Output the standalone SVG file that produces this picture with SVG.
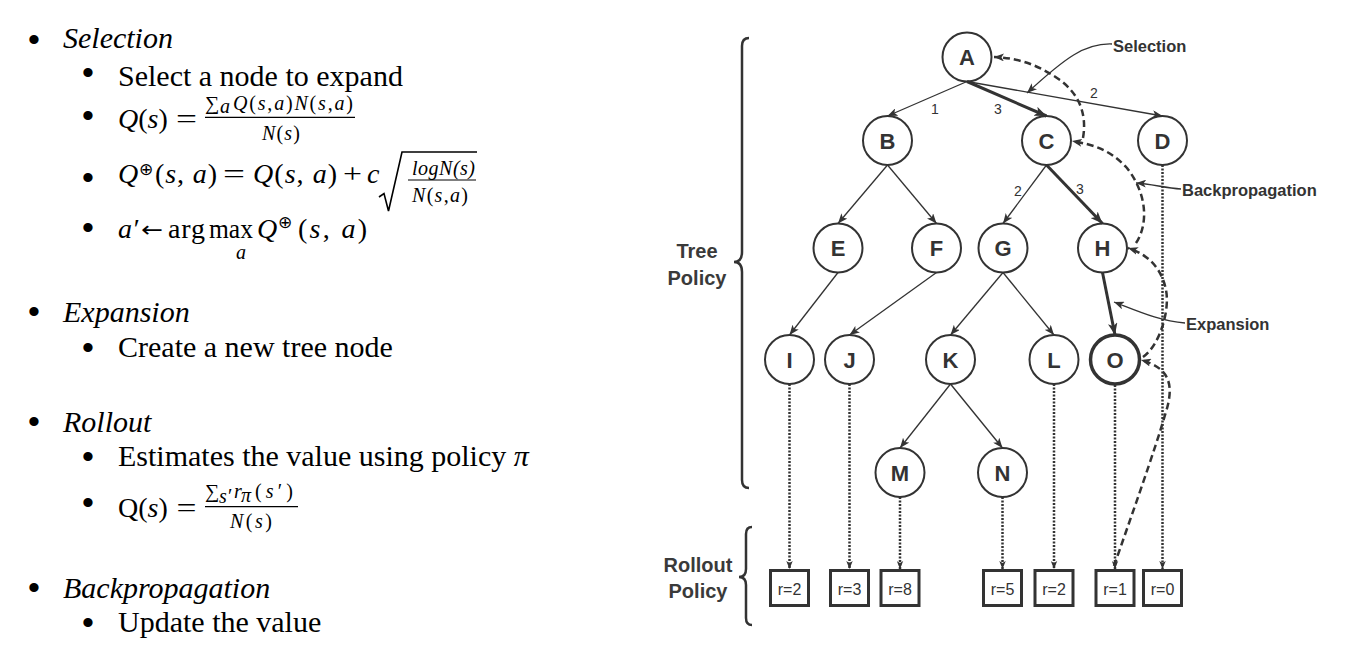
<svg xmlns="http://www.w3.org/2000/svg" width="1355" height="650" viewBox="0 0 1355 650">
<defs>
<style>
.tx{font-family:"Liberation Serif","Times New Roman",serif;font-size:30px;fill:#000}
.it{font-style:italic}
.mt{font-family:"Liberation Serif","Times New Roman",serif;font-size:28px;fill:#000}
.ms{font-family:"Liberation Serif","Times New Roman",serif;font-size:20px;fill:#000}
.bul{font-family:"Liberation Sans",Arial,sans-serif;font-size:34px;fill:#000;text-anchor:middle}
.op{font-family:"DejaVu Sans",sans-serif;fill:#000}
.node circle{fill:#fff;stroke:#333;stroke-width:2}
.node text{font-family:"Liberation Sans",Arial,sans-serif;font-weight:bold;font-size:22px;fill:#333;text-anchor:middle}
.e{stroke:#333;stroke-width:1.3;fill:none;marker-end:url(#ah)}
.et{stroke:#333;stroke-width:3;fill:none;marker-end:url(#ahb)}
.dot{stroke:#333;stroke-width:2.5;stroke-dasharray:2 1.5;fill:none;marker-end:url(#as)}
.bp{stroke:#333;stroke-width:2.5;stroke-dasharray:7 4;fill:none;marker-end:url(#ah)}
.co{stroke:#333;stroke-width:1.3;fill:none;marker-end:url(#ah)}
.lbl{font-family:"Liberation Sans",Arial,sans-serif;font-weight:bold;font-size:16.5px;fill:#333}
.el{font-family:"Liberation Sans",Arial,sans-serif;font-size:14px;fill:#333;text-anchor:middle}
.box rect{fill:#fff;stroke:#333;stroke-width:3}
.box text{font-family:"Liberation Sans",Arial,sans-serif;font-size:16px;fill:#333;text-anchor:middle}
.brace{stroke:#333;stroke-width:2.5;fill:none}
.pl{font-family:"Liberation Sans",Arial,sans-serif;font-weight:bold;font-size:20px;fill:#3a3a3a;text-anchor:middle}
.bar{stroke:#000;stroke-width:1.2}
</style>
<marker id="ah" viewBox="0 0 10 8" refX="10" refY="4" markerWidth="10" markerHeight="8" markerUnits="userSpaceOnUse" orient="auto"><path d="M0,0 L10,4 L0,8 L2.5,4 z" fill="#333"/></marker>
<marker id="ahb" viewBox="0 0 10 8" refX="10" refY="4" markerWidth="12" markerHeight="9.6" markerUnits="userSpaceOnUse" orient="auto"><path d="M0,0 L10,4 L0,8 L2.5,4 z" fill="#333"/></marker>
<marker id="as" viewBox="0 0 10 8" refX="10" refY="4" markerWidth="8" markerHeight="7" markerUnits="userSpaceOnUse" orient="auto"><path d="M0,0 L10,4 L0,8 L2.5,4 z" fill="#333"/></marker>
</defs>
<rect width="1355" height="650" fill="#fff"/>

<g id="left-text">
<text class="bul" x="34" y="51">•</text>
<text class="tx it" x="63" y="48">Selection</text>
<text class="bul" x="88" y="84.3">•</text>
<text class="tx" x="118" y="85.5">Select a node to expand</text>

<text class="bul" x="88" y="126.6">•</text>
<text class="mt" x="118" y="128"><tspan class="it">Q</tspan>(<tspan class="it">s</tspan>)</text>
<text class="mt" x="176" y="128" textLength="21" lengthAdjust="spacingAndGlyphs">=</text>
<text class="ms" x="205" y="110">∑</text>
<text class="ms it" x="220" y="113" font-size="14">a</text>
<text class="ms" x="233" y="110" textLength="120"><tspan class="it">Q</tspan>(<tspan class="it">s</tspan>,<tspan class="it">a</tspan>)<tspan class="it">N</tspan>(<tspan class="it">s</tspan>,<tspan class="it">a</tspan>)</text>
<line class="bar" x1="205" y1="117.3" x2="355" y2="117.3"/>
<text class="ms" x="262" y="140" textLength="38"><tspan class="it">N</tspan>(<tspan class="it">s</tspan>)</text>

<text class="bul" x="88" y="188.6">•</text>
<text class="mt it" x="118" y="183">Q</text>
<text class="op" x="139" y="175.3" font-size="17">⊕</text>
<text class="mt" x="155" y="183" textLength="62">(<tspan class="it">s</tspan>, <tspan class="it">a</tspan>)</text>
<text class="mt" x="223" y="183" textLength="22" lengthAdjust="spacingAndGlyphs">=</text>
<text class="mt" x="253" y="183" textLength="84"><tspan class="it">Q</tspan>(<tspan class="it">s</tspan>, <tspan class="it">a</tspan>)</text>
<text class="mt" x="343" y="183" textLength="19" lengthAdjust="spacingAndGlyphs">+</text>
<text class="mt it" x="367" y="183">c</text>
<path d="M379,197 L384,193.5 L388.5,211 L402,152 L477,152" stroke="#000" stroke-width="1.6" fill="none"/>
<text class="ms it" x="412" y="175" textLength="63">logN(s)</text>
<line class="bar" x1="408" y1="180" x2="476" y2="180"/>
<text class="ms" x="412" y="202" textLength="56"><tspan class="it">N</tspan>(<tspan class="it">s</tspan>,<tspan class="it">a</tspan>)</text>

<text class="bul" x="88" y="238.6">•</text>
<text class="mt it" x="118" y="238">a′</text>
<text class="op" x="141" y="236.6" font-size="22" textLength="22" lengthAdjust="spacingAndGlyphs">←</text>
<text class="mt" x="168" y="238" textLength="37">arg</text>
<text class="mt" x="209" y="238" textLength="44" lengthAdjust="spacingAndGlyphs">max</text>
<text class="ms it" x="236" y="258.5" font-size="16">a</text>
<text class="mt it" x="257" y="238">Q</text>
<text class="op" x="278" y="227.8" font-size="17">⊕</text>
<text class="mt" x="298" y="238" textLength="69">(<tspan class="it">s</tspan>, <tspan class="it">a</tspan>)</text>

<text class="bul" x="34" y="322.6">•</text>
<text class="tx it" x="63" y="321.5">Expansion</text>
<text class="bul" x="88" y="359.3">•</text>
<text class="tx" x="118" y="356.5">Create a new tree node</text>

<text class="bul" x="34" y="432.5">•</text>
<text class="tx it" x="63" y="431.5">Rollout</text>
<text class="bul" x="88" y="467.6">•</text>
<text class="tx" x="118" y="466">Estimates the value using policy <tspan class="it">π</tspan></text>

<text class="bul" x="88" y="514.3">•</text>
<text class="mt" x="118" y="516.7">Q(<tspan class="it">s</tspan>)</text>
<text class="mt" x="176.5" y="516.7" textLength="20" lengthAdjust="spacingAndGlyphs">=</text>
<text class="ms" x="205" y="498">∑</text>
<text class="ms it" x="219" y="503" font-size="14">s′</text>
<text class="ms it" x="234" y="498">r</text>
<text class="ms it" x="241" y="502" font-size="14">π</text>
<text class="ms" x="255" y="498" font-size="22" textLength="38">(<tspan class="it">s</tspan>′)</text>
<line class="bar" x1="205" y1="506.7" x2="298" y2="506.7"/>
<text class="ms" x="230" y="528" textLength="42"><tspan class="it">N</tspan>(<tspan class="it">s</tspan>)</text>

<text class="bul" x="34" y="599.3">•</text>
<text class="tx it" x="63" y="598">Backpropagation</text>
<text class="bul" x="88" y="634.3">•</text>
<text class="tx" x="118" y="631.5">Update the value</text>
</g>

<g id="braces">
<path class="brace" d="M749,38 Q742,38 742,46 L742,252 Q742,262 734,262 Q742,262 742,272 L742,480 Q742,488 749,488"/>
<text class="pl" x="697" y="258">Tree</text>
<text class="pl" x="697" y="285">Policy</text>
<path class="brace" d="M752,527 Q746,527 746,534 L746,569 Q746,577 739,577 Q746,577 746,585 L746,618 Q746,625 752,625"/>
<text class="pl" x="698" y="572">Rollout</text>
<text class="pl" x="698" y="598">Policy</text>
</g>

<g id="node-A" class="node"><circle cx="967" cy="57" r="24.5"/><text x="967" y="65">A</text></g>
<g id="node-B" class="node"><circle cx="887.5" cy="140.5" r="24.5"/><text x="887.5" y="148.5">B</text></g>
<g id="node-C" class="node"><circle cx="1046.5" cy="140.5" r="24.5"/><text x="1046.5" y="148.5">C</text></g>
<g id="node-D" class="node"><circle cx="1162.5" cy="140.5" r="24.5"/><text x="1162.5" y="148.5">D</text></g>
<g id="node-E" class="node"><circle cx="838" cy="248" r="24.5"/><text x="838" y="256">E</text></g>
<g id="node-F" class="node"><circle cx="936.5" cy="248" r="24.5"/><text x="936.5" y="256">F</text></g>
<g id="node-G" class="node"><circle cx="1003" cy="248" r="24.5"/><text x="1003" y="256">G</text></g>
<g id="node-H" class="node"><circle cx="1102.5" cy="248" r="24.5"/><text x="1102.5" y="256">H</text></g>
<g id="node-I" class="node"><circle cx="789.5" cy="359.5" r="24.5"/><text x="789.5" y="367.5">I</text></g>
<g id="node-J" class="node"><circle cx="849.5" cy="359.5" r="24.5"/><text x="849.5" y="367.5">J</text></g>
<g id="node-K" class="node"><circle cx="950.5" cy="359.5" r="24.5"/><text x="950.5" y="367.5">K</text></g>
<g id="node-L" class="node"><circle cx="1054" cy="359.5" r="24.5"/><text x="1054" y="367.5">L</text></g>
<g id="node-O" class="node"><circle cx="1115" cy="359.5" r="24.5" style="stroke-width:3.5"/><text x="1115" y="367.5">O</text></g>
<g id="node-M" class="node"><circle cx="900" cy="472.5" r="24.5"/><text x="900" y="480.5">M</text></g>
<g id="node-N" class="node"><circle cx="1002.5" cy="472.5" r="24.5"/><text x="1002.5" y="480.5">N</text></g>

<g id="box-I" class="box"><rect x="770.5" y="570.5" width="38" height="35"/><text x="789.5" y="594.5">r=2</text></g>
<g id="box-J" class="box"><rect x="830.5" y="570.5" width="38" height="35"/><text x="849.5" y="594.5">r=3</text></g>
<g id="box-M" class="box"><rect x="881" y="570.5" width="38" height="35"/><text x="900" y="594.5">r=8</text></g>
<g id="box-N" class="box"><rect x="983.5" y="570.5" width="38" height="35"/><text x="1002.5" y="594.5">r=5</text></g>
<g id="box-L" class="box"><rect x="1035" y="570.5" width="38" height="35"/><text x="1054" y="594.5">r=2</text></g>
<g id="box-O" class="box"><rect x="1096" y="570.5" width="38" height="35"/><text x="1115" y="594.5">r=1</text></g>
<g id="box-D" class="box"><rect x="1143.5" y="570.5" width="38" height="35"/><text x="1162.5" y="594.5">r=0</text></g>

<g id="connectors">
<line class="e" x1="967" y1="81.5" x2="887.5" y2="116"/>
<line class="et" x1="967" y1="81.5" x2="1046.5" y2="116"/>
<line class="e" x1="967" y1="81.5" x2="1162.5" y2="116"/>
<line class="e" x1="887.5" y1="165" x2="838" y2="223.5"/>
<line class="e" x1="887.5" y1="165" x2="936.5" y2="223.5"/>
<line class="e" x1="1046.5" y1="165" x2="1003" y2="223.5"/>
<line class="et" x1="1046.5" y1="165" x2="1102.5" y2="223.5"/>
<line class="e" x1="838" y1="272.5" x2="789.5" y2="335"/>
<line class="e" x1="936.5" y1="272.5" x2="849.5" y2="335"/>
<line class="e" x1="1003" y1="272.5" x2="950.5" y2="335"/>
<line class="e" x1="1003" y1="272.5" x2="1054" y2="335"/>
<line class="et" x1="1102.5" y1="272.5" x2="1115" y2="335"/>
<line class="e" x1="950.5" y1="384" x2="900" y2="448"/>
<line class="e" x1="950.5" y1="384" x2="1002.5" y2="448"/>

<line class="dot" x1="789.5" y1="384" x2="789.5" y2="569"/>
<line class="dot" x1="849.5" y1="384" x2="849.5" y2="569"/>
<line class="dot" x1="900" y1="497" x2="900" y2="569"/>
<line class="dot" x1="1002.5" y1="497" x2="1002.5" y2="569"/>
<line class="dot" x1="1054" y1="384" x2="1054" y2="569"/>
<line class="dot" x1="1115" y1="385" x2="1115" y2="569"/>
<line class="dot" x1="1162.5" y1="165" x2="1162.5" y2="569"/>

<path class="bp" d="M1114,566 C1130,520 1155,450 1165,415 C1175,385 1170,368 1141,360"/>
<path class="bp" d="M1143,357 C1160,345 1170,310 1166,290 C1162,270 1150,255 1128,248"/>
<path class="bp" d="M1136,243 C1148,225 1148,195 1127,168 C1110,150 1095,145 1072,141"/>
<path class="bp" d="M1083,138 C1087,115 1080,95 1060,80 C1040,66 1020,58 994,57"/>

<path class="co" d="M1112,44 C1085,43 1065,58 1027,93"/>
<path class="co" d="M1181,189 C1165,188 1152,184 1136,183"/>
<path class="co" d="M1185,323 C1160,321 1140,312 1114,302"/>

<text class="el" x="935" y="114">1</text>
<text class="el" x="998" y="114">3</text>
<text class="el" x="1094" y="97.5">2</text>
<text class="el" x="1018" y="196">2</text>
<text class="el" x="1080" y="194">3</text>

<text class="lbl" x="1113" y="52">Selection</text>
<text class="lbl" x="1182" y="196">Backpropagation</text>
<text class="lbl" x="1186" y="330">Expansion</text>
</g>
</svg>
